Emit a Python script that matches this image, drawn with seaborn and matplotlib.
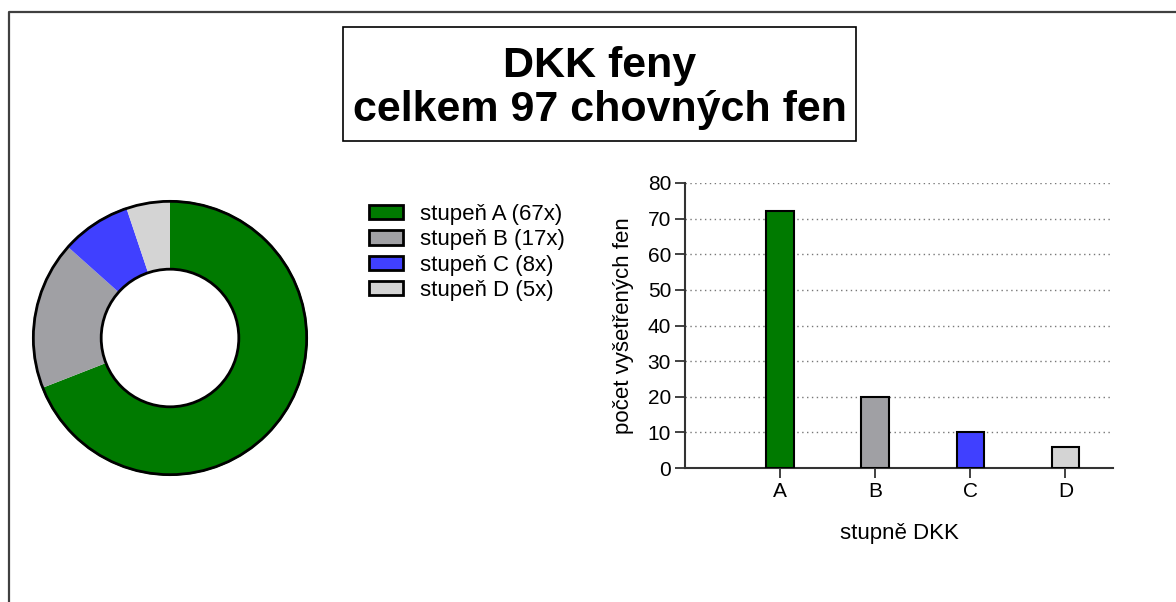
import matplotlib
matplotlib.use("Agg")
import matplotlib.pyplot as plt
import seaborn as sns
import pandas as pd
from matplotlib.patches import Rectangle, Circle, Patch
from matplotlib.lines import Line2D

sns.set_theme(style="white")
plt.rcParams["font.family"] = ["Liberation Sans", "DejaVu Sans"]
plt.rcParams["text.color"] = "black"
plt.rcParams["axes.labelcolor"] = "black"
plt.rcParams["xtick.color"] = "black"
plt.rcParams["ytick.color"] = "black"

# data
grades = ["A", "B", "C", "D"]
donut_counts = [67, 17, 8, 5]
bar_counts = [72, 20, 10, 6]
legend_labels = ["stupeň A (67x)", "stupeň B (17x)", "stupeň C (8x)", "stupeň D (5x)"]
colors = ["#007a00", "#a0a0a4", "#4040ff", "#d4d4d4"]

W, H = 1176, 602
fig = plt.figure(figsize=(W / 100, H / 100), dpi=100)

def px(l, t, w, h):
    # pixel box (left, top, width, height) -> figure fraction
    return [l / W, 1 - (t + h) / H, w / W, h / H]

# frame lines (top and left)
fig.add_artist(Line2D([9 / W, 9 / W, 1], [0, 1 - 12 / H, 1 - 12 / H],
                      transform=fig.transFigure, color="#404040", lw=1.6))

# title box
fig.add_artist(Rectangle((343 / W, 1 - 141 / H), 513 / W, 114 / H,
                         transform=fig.transFigure, fill=False,
                         edgecolor="black", lw=1.2))
fig.text(600 / W, 1 - 66 / H, "DKK feny", ha="center", va="center",
         fontsize=31, fontweight="bold")
fig.text(600 / W, 1 - 110 / H, "celkem 97 chovných fen", ha="center", va="center",
         fontsize=31, fontweight="bold")

# donut
r = 139
ax_pie = fig.add_axes(px(170 - r, 338 - r, 2 * r, 2 * r))
ax_pie.pie(donut_counts, colors=colors, startangle=90, counterclock=False,
           radius=1, wedgeprops=dict(width=0.5, linewidth=0))
ax_pie.add_patch(Circle((0, 0), 0.993, fill=False, edgecolor="black", lw=2))
ax_pie.add_patch(Circle((0, 0), 0.5, fill=False, edgecolor="black", lw=2))
ax_pie.set_xlim(-1.01, 1.01)
ax_pie.set_ylim(-1.01, 1.01)
ax_pie.set_aspect("equal")
ax_pie.axis("off")

# legend
handles = [Patch(facecolor=c, edgecolor="black", linewidth=2) for c in colors]
fig.legend(handles, legend_labels, loc="upper left",
           bbox_to_anchor=(360 / W, 1 - 195 / H), frameon=False,
           fontsize=16, handlelength=1.55, handleheight=0.6,
           handletextpad=0.75, labelspacing=0.2, borderaxespad=0)

# bar chart
df = pd.DataFrame({"grade": grades, "count": bar_counts})
ax = fig.add_axes(px(685, 183, 428, 285))
sns.barplot(data=df, x="grade", y="count", hue="grade", palette=colors,
            saturation=1, width=0.29, edgecolor="black", linewidth=1.5,
            legend=False, zorder=3, ax=ax)
ax.set_xlim(-1, 3.5)
ax.set_ylim(0, 80)
ax.set_yticks(range(0, 81, 10))
ax.yaxis.grid(True, linestyle=(0, (1, 2.5)), color="#777777", lw=1)
ax.xaxis.grid(False)
for s in ["top", "right"]:
    ax.spines[s].set_visible(False)
for s in ["left", "bottom"]:
    ax.spines[s].set_color("#333333")
    ax.spines[s].set_linewidth(1.5)
ax.tick_params(axis="both", which="both", direction="out", length=7,
               width=1.3, color="#333333", labelsize=15, pad=3,
               left=True, bottom=True)
ax.set_ylabel("počet vyšetřených fen", fontsize=16, labelpad=10)
ax.set_xlabel("stupně DKK", fontsize=16, labelpad=16)

fig.savefig("out.png", dpi=100, facecolor="white")
